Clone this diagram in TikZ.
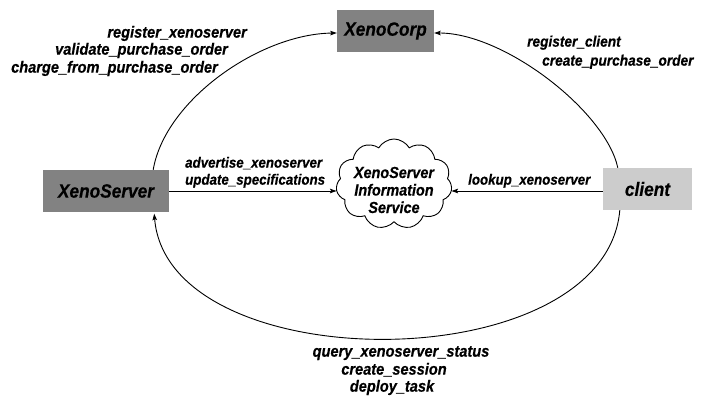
\documentclass[tikz,border=0pt]{standalone}
\usepackage{fontspec}
\setmainfont{Liberation Sans}
\newfontfamily\lblfont{Liberation Sans}[FakeStretch=0.9, FakeBold=0.4]
\usetikzlibrary{shapes.symbols,arrows.meta,calc}
\definecolor{boxdark}{RGB}{130,130,130}
\definecolor{boxlight}{RGB}{204,204,204}
\tikzset{
  box/.style={draw=none, minimum height=42pt, inner sep=0pt, font=\lblfont\fontsize{19.2}{20}\selectfont\bfseries\itshape},
  lbl/.style={inner sep=0pt, text height=10.5pt, text depth=3.2pt, font=\lblfont\fontsize{14.8}{16}\selectfont\bfseries\itshape},
  lblbig/.style={lbl, font=\lblfont\fontsize{16.2}{16}\selectfont\bfseries\itshape},
  lblmid/.style={lbl, font=\lblfont\fontsize{15.2}{16}\selectfont\bfseries\itshape},
  arr/.style={line width=0.9pt, -{Stealth[length=6.5pt,width=4.5pt,inset=1.2pt]}},
  cloudshape/.style={cloud, draw, line width=0.9pt, cloud puffs=11, cloud puff arc=120, cloud ignores aspect, minimum width=116pt, minimum height=90pt, inner sep=0pt}
}
\begin{document}
\begin{tikzpicture}[x=1pt,y=-1pt]
\useasboundingbox (0,0) rectangle (706,396);
\fill[white] (0,0) rectangle (706,396);
% boxes
\node[box, fill=boxdark, minimum width=97pt] (xc) at (385.5,31) {XenoCorp};
\node[box, fill=boxdark, minimum width=126pt] (xs) at (106,191) {XenoServer};
\node[box, fill=boxlight, minimum width=89pt] (cl) at (647.5,189) {client};
% cloud
\node[cloudshape] (cloud) at (394,184) {};
\node[align=center, inner sep=0pt, font=\lblfont\fontsize{16}{17.5}\selectfont\bfseries\itshape] (cloudtext) at (394,190) {XenoServer\\Information\\Service};
% straight arrows
\draw[arr] (xs.east) -- (xs.east -| cloud.west);
\draw[arr] (cl.west |- xs.east) -- (xs.east -| cloud.east);
% loop arcs
\coordinate (a1) at ($(xs.north east)+(-16,0)$);
\coordinate (a2) at ($(xc.west)+(0,2)$);
\draw[arr] (a1) .. controls (165,100) and (260,34) .. (a2);
\coordinate (b1) at ($(cl.north west)+(15,0)$);
\coordinate (b2) at ($(xc.east)+(0,2)$);
\draw[arr] (b1) .. controls (606,112) and (505,33) .. (b2);
\coordinate (c1) at ($(cl.south west)+(17,0)$);
\coordinate (c2) at ($(xs.south east)+(-15,1.5)$);
\draw[arr] (c1) .. controls (605,381) and (168,381) .. (c2);
% labels
\node[lblbig, anchor=east] (l1) at (247,34) {register\_xenoserver};
\node[lblbig, anchor=east] (l2) at (228,51) {validate\_purchase\_order};
\node[lblbig, anchor=east] (l3) at (218,69) {charge\_from\_purchase\_order};
\node[lblmid, anchor=west] (r1) at (527,43) {register\_client};
\node[lblmid, anchor=west] (r2) at (542,62) {create\_purchase\_order};
\node[lbl, anchor=west] (m1) at (185,164) {advertise\_xenoserver};
\node[lbl, anchor=west] (m2) at (185,181) {update\_specifications};
\node[lbl, anchor=west] (m3) at (468,181) {lookup\_xenoserver};
\node[lblbig] (b1t) at (401,353) {query\_xenoserver\_status};
\node[lblbig] (b2t) at (394,371) {create\_session};
\node[lblbig] (b3t) at (392,388) {deploy\_task};
\end{tikzpicture}
\end{document}
